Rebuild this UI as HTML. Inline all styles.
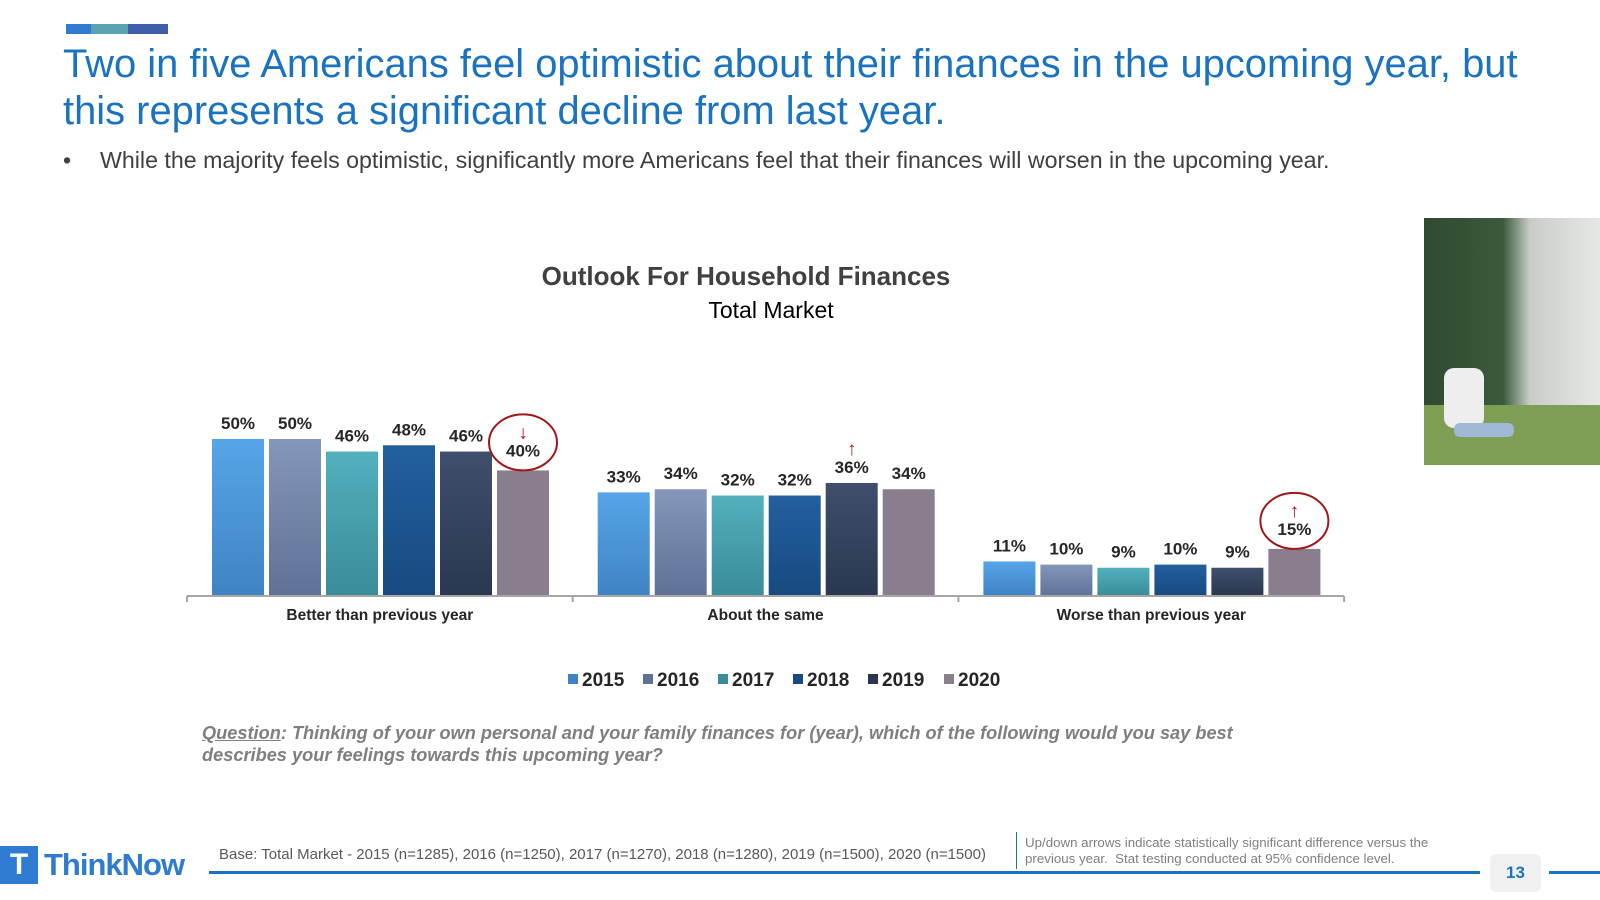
<!DOCTYPE html>
<html><head><meta charset="utf-8"><style>
body{margin:0;width:1600px;height:900px;background:#fff;position:relative;overflow:hidden;font-family:"Liberation Sans",Arial,sans-serif}
.a{position:absolute}
</style></head><body>
<div class="a" style="left:66px;top:24px;width:102px;height:10px;display:flex"><div style="flex:1;background:#2e7bd1"></div><div style="flex:1.5;background:#5ba3b0"></div><div style="flex:1.6;background:#3f5fa8"></div></div>
<div class="a" style="left:63px;top:41px;width:1530px;font-size:39.9px;line-height:47px;color:#1a73c1">Two in five Americans feel optimistic about their finances in the upcoming year, but<br>this represents a significant decline from last year.</div>
<div class="a" style="left:63px;top:147px;font-size:23.2px;color:#404040;white-space:nowrap"><span style="display:inline-block;width:37px">•</span>While the majority feels optimistic, significantly more Americans feel that their finances will worsen in the upcoming year.</div>
<div class="a" style="left:1424px;top:218px;width:176px;height:247px;background:linear-gradient(90deg,#2f4a32 0%,#3b5a3c 45%,#c9ccc6 60%,#e6e8e4 100%)">
<div style="position:absolute;left:0;right:0;bottom:0;height:60px;background:#7e9d55"></div>
<div style="position:absolute;left:20px;top:150px;width:40px;height:60px;background:#eee;border-radius:10px"></div>
<div style="position:absolute;left:30px;top:205px;width:60px;height:14px;background:#9fb8d6;border-radius:6px"></div>
</div>
<svg class="a" style="left:0;top:0" width="1600" height="900" id="chart">
<text x="746" y="285" text-anchor="middle" font-size="26" font-weight="bold" fill="#404040">Outlook For Household Finances</text>
<text x="771" y="318" text-anchor="middle" font-size="23" fill="#000">Total Market</text>
</svg>
<div class="a" style="left:202px;top:722px;width:1100px;font-size:18.2px;line-height:22px;font-weight:bold;font-style:italic;color:#7f7f7f"><u>Question</u>: Thinking of your own personal and your family finances for (year), which of the following would you say best<br>describes your feelings towards this upcoming year?</div>
<div class="a" style="left:0;top:845px;height:39px;display:flex;align-items:center"><div style="width:38px;height:38px;background:#2e7bd1;color:#fff;font-weight:bold;font-size:30px;text-align:center;line-height:38px">T</div><span style="font-size:31px;font-weight:bold;color:#2e7bd1;margin-left:6px;letter-spacing:-1px">ThinkNow</span></div>
<div class="a" style="left:219px;top:846px;font-size:15px;color:#595959;white-space:nowrap">Base: Total Market - 2015 (n=1285), 2016 (n=1250), 2017 (n=1270), 2018 (n=1280), 2019 (n=1500), 2020 (n=1500)</div>
<div class="a" style="left:1016px;top:832px;width:1px;height:37px;background:#1a73c1"></div>
<div class="a" style="left:1025px;top:835px;font-size:13.3px;line-height:16px;color:#7f7f7f;white-space:nowrap">Up/down arrows indicate statistically significant difference versus the<br>previous year.&nbsp; Stat testing conducted at 95% confidence level.</div>
<div class="a" style="left:209px;top:871px;width:1271px;height:3px;background:#1a73c1"></div>
<div class="a" style="left:1549px;top:871px;width:51px;height:3px;background:#1a73c1"></div>
<div class="a" style="left:1490px;top:854px;width:51px;height:38px;background:#f0f0f0;border-radius:6px;text-align:center;line-height:38px;font-size:17px;font-weight:bold;color:#1a73c1">13</div>
<script>
const categories=["Better than previous year","About the same","Worse than previous year"];
const years=["2015","2016","2017","2018","2019","2020"];
const v2015=[50,33,11];
const v2016=[50,34,10];
const v2017=[46,32,9];
const v2018=[48,32,10];
const v2019=[46,36,9];
const v2020=[40,34,15];
const series=[v2015,v2016,v2017,v2018,v2019,v2020];
const colors=[["#56a5e8","#3f83c4"],["#8497ba","#5f7196"],["#52b0bc","#3a8c98"],["#22609e","#174a80"],["#3f4f6c","#2a3750"],["#8a7e8e","#8a7e8e"]];
const flags={"0,5":"down","1,4":"up","2,5":"up"};
const circled={"0,5":1,"2,5":1};
const NS="http://www.w3.org/2000/svg";
const svg=document.getElementById('chart');
const base=596,scale=3.14,x0=187,groupW=385.7,barW=52,step=57,firstOff=25;
const y=v=>base-v*scale;
const xb=(c,s)=>x0+c*groupW+firstOff+s*step;
function mk(t,a){const e=document.createElementNS(NS,t);for(const k in a)e.setAttribute(k,a[k]);svg.appendChild(e);return e;}
const defs=mk('defs',{});
colors.forEach((c,i)=>{const g=document.createElementNS(NS,'linearGradient');g.setAttribute('id','g'+i);g.setAttribute('x1','0');g.setAttribute('y1','0');g.setAttribute('x2','0');g.setAttribute('y2','1');
g.innerHTML=`<stop offset="0" stop-color="${c[0]}"/><stop offset="1" stop-color="${c[1]}"/>`;defs.appendChild(g);});
series.forEach((arr,s)=>arr.forEach((v,c)=>{
 const r=mk('rect',{x:xb(c,s),y:y(v),width:barW,height:v*scale,fill:`url(#g${s})`});
 
 
 const k=c+','+s;const cx=xb(c,s)+barW/2;
 const ty=circled[k]?y(v)-14:y(v)-10;
 const t=mk('text',{x:cx,y:ty,'text-anchor':'middle','font-size':17,'font-weight':'bold',fill:'#262626'});t.textContent=v+'%';
 
 
 if(flags[k]){const up=flags[k]=='up';
  const a=mk('text',{x:cx,y:ty-18,'text-anchor':'middle','font-size':19,'font-weight':'bold',fill:'#a01818'});a.textContent=up?'↑':'↓';
  
  }
 if(circled[k]){const e=mk('ellipse',{cx:cx,cy:ty-14,rx:34,ry:28,fill:'none',stroke:'#a01818','stroke-width':2});
  
  }
}));
const ax=mk('line',{x1:x0,x2:x0+3*groupW,y1:base,y2:base,stroke:'#a6a6a6','stroke-width':2});


for(let i=0;i<=3;i++){mk('line',{x1:x0+i*groupW,x2:x0+i*groupW,y1:base,y2:base+6,stroke:'#a6a6a6','stroke-width':2});}
categories.forEach((c,i)=>{const t=mk('text',{x:x0+(i+0.5)*groupW,y:620,'text-anchor':'middle','font-size':15.5,'font-weight':'bold',fill:'#262626'});t.textContent=c;
 
 });
const lx=[568,643,718,793,868,944];
years.forEach((yr,i)=>{const r=mk('rect',{x:lx[i],y:674,width:10,height:10,fill:colors[i][1]});
 
 
 const t=mk('text',{x:lx[i]+14,y:686,'font-size':19,'font-weight':'bold',fill:'#262626'});t.textContent=yr;
 
 });
</script>
</body></html>
